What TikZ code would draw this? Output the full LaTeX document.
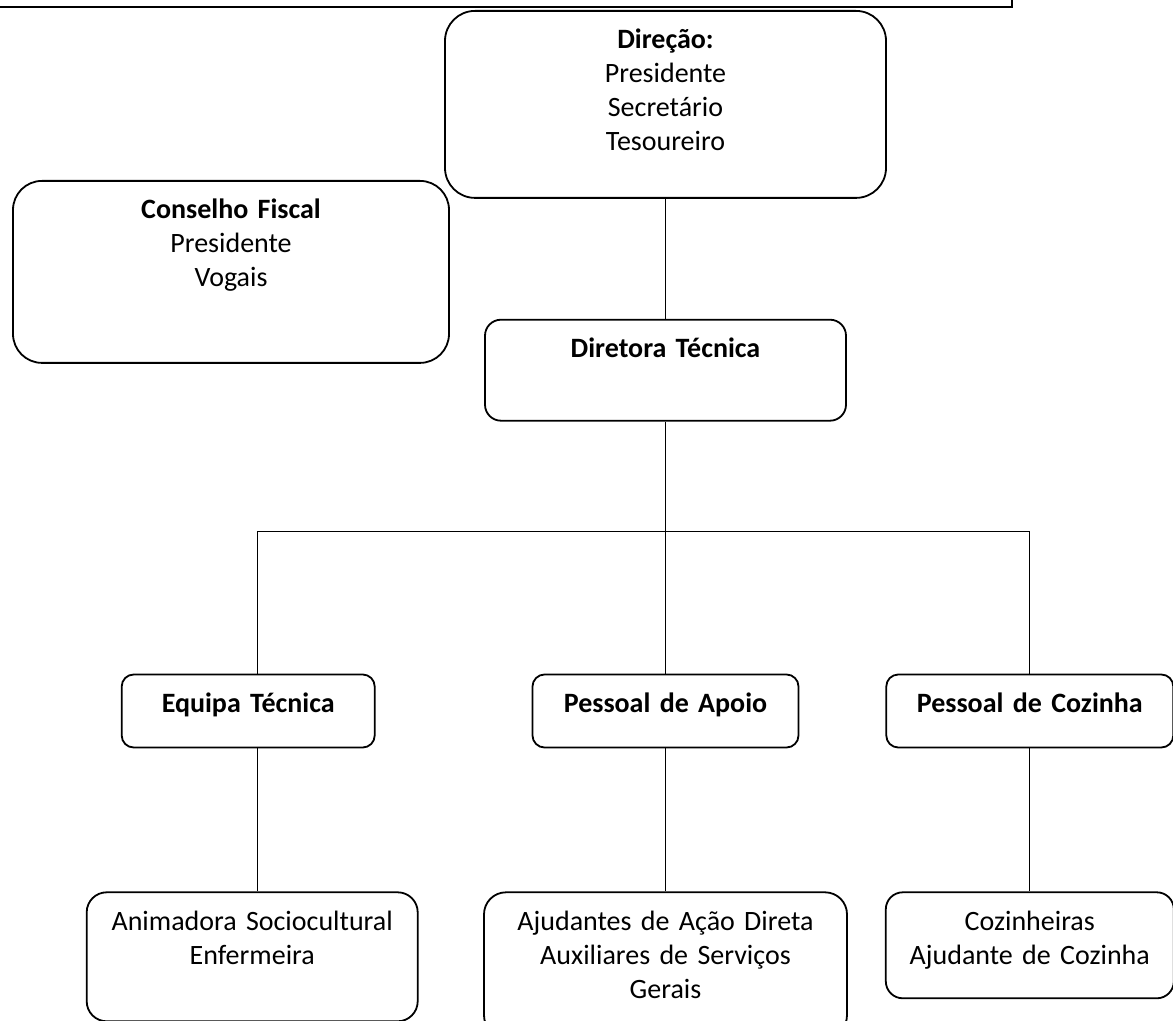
\documentclass[tikz,border=0pt]{standalone}
\usepackage{fontspec}
\setmainfont{Carlito}
\usetikzlibrary{positioning}

\begin{document}
\begin{tikzpicture}[x=0.5pt,y=-0.5pt,
    orgbox/.style={draw,line width=0.9pt,rounded corners=#1,align=center,
      inner sep=0pt,text height=19pt,font=\fontsize{14}{17}\selectfont},
    orgbox/.default=6pt,
    link/.style={line width=0.45pt}]
    \useasboundingbox (0,0) rectangle (1173,1021);
    \clip (0,0) rectangle (1173,1021);

    % cut-off frame at the top
    \draw[line width=0.9pt] (-10,7) -| (1012,-10);

    \node[orgbox=15pt,text width=220.5pt,text depth=74.5pt,anchor=north] (dir) at (665.5,10)
        {\textbf{Direção:}\\Presidente\\Secretário\\Tesoureiro};
    \node[orgbox=14.5pt,text width=218pt,text depth=72pt,anchor=north] (cf) at (231,180)
        {\textbf{Conselho Fiscal}\\Presidente\\Vogais};
    \node[orgbox=8pt,text width=180.5pt,text depth=31.5pt,below=60pt of dir] (dt)
        {\textbf{Diretora Técnica}};

    \node[orgbox,text width=133pt,text depth=17.5pt,below=126pt of dt] (pa)
        {\textbf{Pessoal de Apoio}};
    \node[orgbox,text width=126.5pt,text depth=17.5pt,left=78pt of pa] (et)
        {\textbf{Equipa Técnica}};
    \node[orgbox,text width=143.5pt,text depth=17.5pt,right=43pt of pa] (pc)
        {\textbf{Pessoal de Cozinha}};

    \node[orgbox=10pt,text width=165.5pt,text depth=45.5pt,below=71.5pt of et,xshift=2pt] (an)
        {Animadora Sociocultural\\Enfermeira};
    \node[orgbox=11pt,text width=181.5pt,text depth=53.5pt,below=71.5pt of pa] (aj)
        {Ajudantes de Ação Direta\\Auxiliares de Serviços\\Gerais};
    \node[orgbox=8.5pt,text width=144pt,text depth=34pt,below=71.5pt of pc] (cz)
        {Cozinheiras\\Ajudante de Cozinha};

    \coordinate (bar) at (257,531);
    \draw[link] (bar |- et.north) -- (bar) -| (pc.north);
    \draw[link] (bar |- et.south) -- (bar |- an.north);
    \foreach \u / \v in {dir/dt,dt/pa,pa/aj,pc/cz}
        \draw[link] (\u.south) -- (\u.south |- \v.north);
\end{tikzpicture}
\end{document}
